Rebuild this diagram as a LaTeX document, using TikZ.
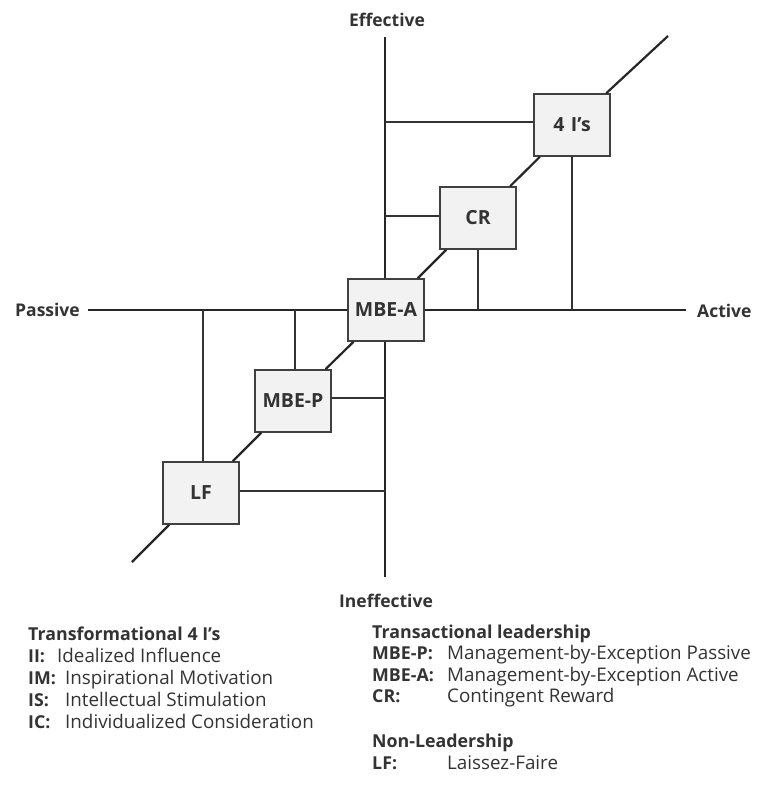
\documentclass[tikz,border=0pt]{standalone}
\usepackage{fontspec}
\setmainfont{Open Sans}
\begin{document}
\begin{tikzpicture}[x=1pt,y=-1pt,
  axis/.style={line width=1.8pt,draw=black!85},
  diag/.style={line width=2.2pt,draw=black!85},
  link/.style={line width=1.3pt,draw=black!80},
  stylebox/.style={draw=black!75,line width=1.6pt,fill=blue!4!gray!10,minimum width=76pt,minimum height=62pt,inner sep=0pt,font=\bfseries\fontsize{19.5}{22}\selectfont,text=black!80},
  axlabel/.style={font=\bfseries\fontsize{17.5}{20}\selectfont,text=black!80,inner sep=0pt},
  legend/.style={anchor=base west,inner sep=0pt,font=\fontsize{18.8}{22}\selectfont,text=black!80},
  legendb/.style={legend,font=\bfseries\fontsize{17.8}{20}\selectfont}]
\useasboundingbox (0,0) rectangle (756,793);
% axes
\coordinate (etop) at (385,37);
\coordinate (ebot) at (385,577);
\coordinate (pl) at (88,310);
\coordinate (pr) at (686,310);
\coordinate (dl) at (132,562);
\coordinate (dr) at (668,36);
\node[axlabel] (eff) at (387,20) {Effective};
\node[axlabel] (ineff) at (386,601) {Ineffective};
\node[axlabel,anchor=west] (pas) at (15,310) {Passive};
\node[axlabel,anchor=west] (act) at (697,311) {Active};
\draw[axis] (etop) -- (ebot);
\draw[axis] (pl) -- (pr);
% boxes
\node[stylebox] (FourI) at (572,125) {4\,\,I’s};
\node[stylebox] (CR) at (478,218) {CR};
\node[stylebox] (MBEA) at (386,310) {MBE-A};
\node[stylebox] (MBEP) at (293,401) {MBE-P};
\node[stylebox] (LF) at (201,493) {LF};
% diagonal
\draw[diag] (dl) -- (LF) -- (MBEP) -- (MBEA) -- (CR) -- (FourI) -- (dr);
% links
\draw[link] ([yshift=3pt]FourI.west) -- ([yshift=3pt]FourI.west -| etop);
\draw[link] (FourI.south) -- (FourI.south |- pl);
\draw[link] ([yshift=2pt]CR.west) -- ([yshift=2pt]CR.west -| etop);
\draw[link] (CR.south) -- (CR.south |- pl);
\draw[link] ([xshift=2pt]MBEP.north) -- ([xshift=2pt]MBEP.north |- pl);
\draw[link] ([yshift=3pt]MBEP.east) -- ([yshift=3pt]MBEP.east -| etop);
\draw[link] ([xshift=2pt]LF.north) -- ([xshift=2pt]LF.north |- pl);
\draw[link] ([yshift=2pt]LF.east) -- ([yshift=2pt]LF.east -| etop);
% legend left
\node[legendb] (t1) at (28,640) {Transformational 4 I’s};
\node[legendb] (a1) at (28,662) {II:};
\node[legend] (d1) at (57,662) {Idealized Influence};
\node[legendb] (a2) at (28,684) {IM:};
\node[legend] (d2) at (65,684) {Inspirational Motivation};
\node[legendb] (a3) at (28,706) {IS:};
\node[legend] (d3) at (65,706) {Intellectual Stimulation};
\node[legendb] (a4) at (28,728) {IC:};
\node[legend] (d4) at (65,728) {Individualized Consideration};
% legend right
\node[legendb] (t2) at (372,638) {Transactional leadership};
\node[legendb] (b1) at (372,659) {MBE-P:};
\node[legend] (e1) at (447,659) {Management-by-Exception Passive};
\node[legendb] (b2) at (372,681) {MBE-A:};
\node[legend] (e2) at (447,681) {Management-by-Exception Active};
\node[legendb] (b3) at (372,702) {CR:};
\node[legend] (e3) at (447,702) {Contingent Reward};
\node[legendb] (t3) at (372,747) {Non-Leadership};
\node[legendb] (b4) at (372,769) {LF:};
\node[legend] (e4) at (447,769) {Laissez-Faire};
\end{tikzpicture}
\end{document}
